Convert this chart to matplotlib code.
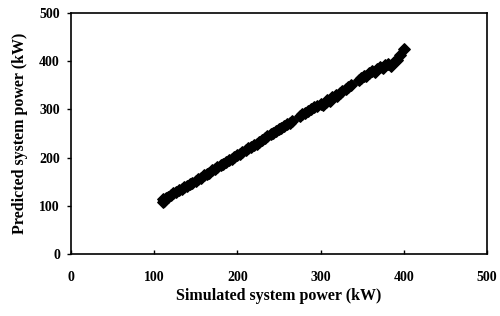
import matplotlib
matplotlib.use("Agg")
import matplotlib.pyplot as plt

plt.rcParams['font.family'] = ['Liberation Serif', 'DejaVu Serif']

simulated = [110, 111, 112, 114, 117, 120, 123, 126, 130, 133, 136, 140, 143,
             146, 150, 153, 156, 160, 163, 166, 170, 173, 176, 180, 183, 186,
             190, 193, 196, 200, 203, 206, 210, 213, 216, 220, 223, 226, 230,
             233, 236, 240, 243, 246, 250, 253, 256, 260, 263, 266, 275, 278,
             281, 285, 288, 292, 296, 300, 303, 306, 308, 311, 314, 318, 320,
             323, 326, 330, 333, 336, 346, 349, 352, 355, 358, 362, 365, 368,
             371, 375, 378, 381, 385, 388, 392, 396, 400]
predicted = [108, 114, 110, 117, 119, 122, 126, 128, 133, 135, 139, 142, 146,
             148, 152, 156, 158, 163, 166, 169, 174, 176, 180, 184, 187, 190,
             195, 198, 201, 205, 208, 211, 216, 219, 222, 227, 229, 233, 237,
             240, 244, 248, 251, 255, 259, 262, 266, 270, 272, 276, 286, 290,
             293, 297, 300, 305, 308, 312, 309, 316, 320, 318, 325, 330, 327,
             335, 338, 342, 347, 350, 362, 366, 370, 369, 375, 379, 378, 384,
             388, 385, 392, 395, 390, 398, 402, 412, 425]

fig = plt.figure(figsize=(5, 3.16), dpi=100)
ax = fig.add_axes([0.142, 0.196, 0.832, 0.763])
ax.scatter(simulated, predicted, marker='D', s=34, color='black', zorder=3)

ax.set_xlim(0, 500)
ax.set_ylim(0, 500)
ax.set_xticks(range(0, 501, 100))
ax.set_yticks(range(0, 501, 100))
ax.tick_params(axis='x', direction='in', length=3, width=1, labelsize=10, pad=12)
ax.tick_params(axis='y', direction='out', length=3, width=1, labelsize=10, pad=5)
for lbl in ax.get_xticklabels() + ax.get_yticklabels():
    lbl.set_fontweight('bold')
for sp in ax.spines.values():
    sp.set_linewidth(1.2)

ax.set_xlabel('Simulated system power (kW)', fontsize=11.5, fontweight='bold', labelpad=3)
ax.set_ylabel('Predicted system power (kW)', fontsize=11.5, fontweight='bold', labelpad=8)

fig.savefig('out.png', dpi=100)
